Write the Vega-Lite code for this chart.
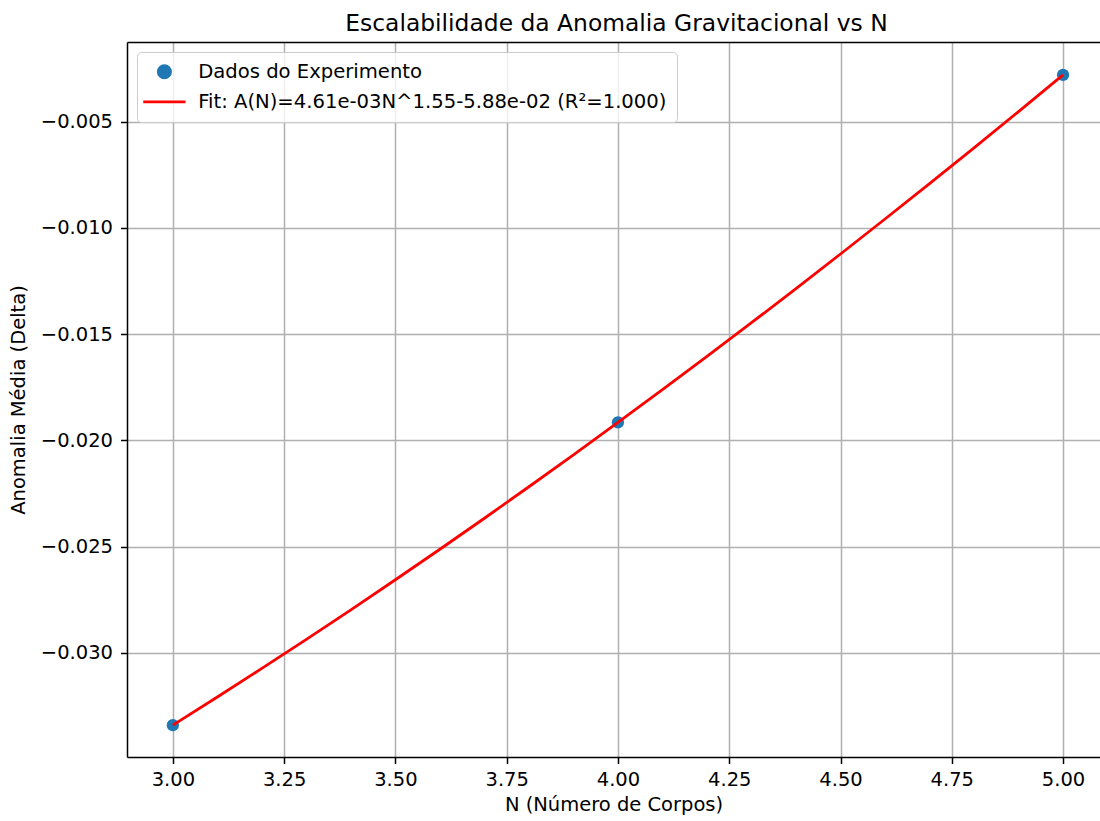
{
  "$schema": "https://vega.github.io/schema/vega-lite/v6.json",
  "autosize": {"type": "none"},
  "padding": {"left": 127, "top": 42, "right": 0, "bottom": 64},
  "width": 973,
  "height": 715,
  "background": "white",
  "title": {
    "text": "Escalabilidade da Anomalia Gravitacional vs N",
    "fontSize": 23.4,
    "fontWeight": "normal",
    "font": "DejaVu Sans",
    "color": "black",
    "anchor": "middle",
    "frame": "group",
    "baseline": "alphabetic",
    "offset": -12,
    "dx": 3
  },
  "config": {
    "view": {"stroke": null},
    "font": "DejaVu Sans"
  },
  "datasets": {
    "experimento": [
      {"N": 3, "A": -0.03340, "serie": "Dados do Experimento"},
      {"N": 4, "A": -0.01915, "serie": "Dados do Experimento"},
      {"N": 5, "A": -0.00280, "serie": "Dados do Experimento"}
    ],
    "fit": [
      {"N": 3.0, "A": -0.033399, "serie": "Fit: A(N)=4.61e-03N^1.55-5.88e-02 (R²=1.000)"},
      {"N": 3.1, "A": -0.032077, "serie": "Fit: A(N)=4.61e-03N^1.55-5.88e-02 (R²=1.000)"},
      {"N": 3.2, "A": -0.030732, "serie": "Fit: A(N)=4.61e-03N^1.55-5.88e-02 (R²=1.000)"},
      {"N": 3.3, "A": -0.029364, "serie": "Fit: A(N)=4.61e-03N^1.55-5.88e-02 (R²=1.000)"},
      {"N": 3.4, "A": -0.027972, "serie": "Fit: A(N)=4.61e-03N^1.55-5.88e-02 (R²=1.000)"},
      {"N": 3.5, "A": -0.026558, "serie": "Fit: A(N)=4.61e-03N^1.55-5.88e-02 (R²=1.000)"},
      {"N": 3.6, "A": -0.025122, "serie": "Fit: A(N)=4.61e-03N^1.55-5.88e-02 (R²=1.000)"},
      {"N": 3.7, "A": -0.023663, "serie": "Fit: A(N)=4.61e-03N^1.55-5.88e-02 (R²=1.000)"},
      {"N": 3.8, "A": -0.022182, "serie": "Fit: A(N)=4.61e-03N^1.55-5.88e-02 (R²=1.000)"},
      {"N": 3.9, "A": -0.020680, "serie": "Fit: A(N)=4.61e-03N^1.55-5.88e-02 (R²=1.000)"},
      {"N": 4.0, "A": -0.019157, "serie": "Fit: A(N)=4.61e-03N^1.55-5.88e-02 (R²=1.000)"},
      {"N": 4.1, "A": -0.017612, "serie": "Fit: A(N)=4.61e-03N^1.55-5.88e-02 (R²=1.000)"},
      {"N": 4.2, "A": -0.016047, "serie": "Fit: A(N)=4.61e-03N^1.55-5.88e-02 (R²=1.000)"},
      {"N": 4.3, "A": -0.014461, "serie": "Fit: A(N)=4.61e-03N^1.55-5.88e-02 (R²=1.000)"},
      {"N": 4.4, "A": -0.012855, "serie": "Fit: A(N)=4.61e-03N^1.55-5.88e-02 (R²=1.000)"},
      {"N": 4.5, "A": -0.011228, "serie": "Fit: A(N)=4.61e-03N^1.55-5.88e-02 (R²=1.000)"},
      {"N": 4.6, "A": -0.009581, "serie": "Fit: A(N)=4.61e-03N^1.55-5.88e-02 (R²=1.000)"},
      {"N": 4.7, "A": -0.007915, "serie": "Fit: A(N)=4.61e-03N^1.55-5.88e-02 (R²=1.000)"},
      {"N": 4.8, "A": -0.006229, "serie": "Fit: A(N)=4.61e-03N^1.55-5.88e-02 (R²=1.000)"},
      {"N": 4.9, "A": -0.004524, "serie": "Fit: A(N)=4.61e-03N^1.55-5.88e-02 (R²=1.000)"},
      {"N": 5.0, "A": -0.002799, "serie": "Fit: A(N)=4.61e-03N^1.55-5.88e-02 (R²=1.000)"}
    ]
  },
  "layer": [
    {
      "data": {"name": "experimento"},
      "mark": {"type": "point", "filled": true, "opacity": 1, "size": 150},
      "encoding": {
        "x": {
          "field": "N",
          "type": "quantitative",
          "scale": {"domain": [2.897, 5.083], "nice": false, "zero": false},
          "axis": {
            "orient": "bottom",
            "values": [3, 3.25, 3.5, 3.75, 4, 4.25, 4.5, 4.75, 5],
            "format": ".2f",
            "grid": true,
            "gridColor": "#b0b0b0",
            "gridWidth": 1.5,
            "domainColor": "black",
            "domainWidth": 1.5,
            "tickColor": "black",
            "tickWidth": 1.5,
            "tickSize": 6.5,
            "labelFont": "DejaVu Sans",
            "labelFontSize": 19.5,
            "labelColor": "black",
            "labelPadding": 7,
            "labelFlush": false,
            "labelOverlap": false,
            "title": "N (Número de Corpos)",
            "titleFont": "DejaVu Sans",
            "titleFontSize": 19.5,
            "titleFontWeight": "normal",
            "titleColor": "black",
            "titlePadding": 6
          }
        },
        "y": {
          "field": "A",
          "type": "quantitative",
          "scale": {"domain": [-0.0349, -0.00125], "nice": false, "zero": false},
          "axis": {
            "orient": "left",
            "values": [-0.03, -0.025, -0.02, -0.015, -0.01, -0.005],
            "format": ".3f",
            "grid": true,
            "gridColor": "#b0b0b0",
            "gridWidth": 1.5,
            "domainColor": "black",
            "domainWidth": 1.5,
            "tickColor": "black",
            "tickWidth": 1.5,
            "tickSize": 6.5,
            "labelFont": "DejaVu Sans",
            "labelFontSize": 19.5,
            "labelColor": "black",
            "labelPadding": 8,
            "labelOverlap": false,
            "title": "Anomalia Média (Delta)",
            "titleFont": "DejaVu Sans",
            "titleFontSize": 19.5,
            "titleFontWeight": "normal",
            "titleColor": "black",
            "titlePadding": 12
          }
        },
        "color": {
          "field": "serie",
          "type": "nominal",
          "scale": {
            "domain": ["Dados do Experimento", "Fit: A(N)=4.61e-03N^1.55-5.88e-02 (R²=1.000)"],
            "range": ["#1f77b4", "#ff0000"]
          },
          "legend": {
            "title": null,
            "orient": "top-left",
            "offset": 10,
            "padding": 10,
            "fillColor": "rgba(255,255,255,0.8)",
            "strokeColor": "#cccccc",
            "cornerRadius": 4,
            "labelFont": "DejaVu Sans",
            "labelFontSize": 19.6,
            "labelColor": "black",
            "labelLimit": 900,
            "symbolSize": 150,
            "symbolStrokeWidth": 2.8,
            "symbolOffset": 7.6,
            "labelOffset": 24,
            "rowPadding": 7,
            "encode": {
              "symbols": {
                "update": {
                  "fill": {"signal": "datum.value === 'Dados do Experimento' ? '#1f77b4' : 'transparent'"},
                  "stroke": {"signal": "datum.value === 'Dados do Experimento' ? 'transparent' : '#ff0000'"},
                  "strokeWidth": {"value": 2.8},
                  "opacity": {"value": 1}
                }
              }
            }
          }
        },
        "shape": {
          "field": "serie",
          "type": "nominal",
          "scale": {
            "domain": ["Dados do Experimento", "Fit: A(N)=4.61e-03N^1.55-5.88e-02 (R²=1.000)"],
            "range": ["circle", "M-3.45,0H3.45"]
          },
          "legend": {
            "title": null,
            "orient": "top-left",
            "offset": 10,
            "padding": 10,
            "fillColor": "rgba(255,255,255,0.8)",
            "strokeColor": "#cccccc",
            "cornerRadius": 4,
            "labelFont": "DejaVu Sans",
            "labelFontSize": 19.6,
            "labelColor": "black",
            "labelLimit": 900,
            "symbolSize": 150,
            "symbolStrokeWidth": 2.8,
            "symbolOffset": 7.6,
            "labelOffset": 24,
            "rowPadding": 7,
            "encode": {
              "symbols": {
                "update": {
                  "fill": {"signal": "datum.value === 'Dados do Experimento' ? '#1f77b4' : 'transparent'"},
                  "stroke": {"signal": "datum.value === 'Dados do Experimento' ? 'transparent' : '#ff0000'"},
                  "strokeWidth": {"value": 2.8},
                  "opacity": {"value": 1}
                }
              }
            }
          }
        }
      }
    },
    {
      "data": {"name": "fit"},
      "mark": {"type": "line", "strokeWidth": 2.8},
      "encoding": {
        "x": {
          "field": "N",
          "type": "quantitative",
          "axis": {
            "orient": "top",
            "labels": false,
            "ticks": false,
            "grid": false,
            "domain": true,
            "domainColor": "black",
            "domainWidth": 1.5,
            "title": null
          }
        },
        "y": {"field": "A", "type": "quantitative"},
        "color": {"field": "serie", "type": "nominal"}
      }
    }
  ],
  "resolve": {"axis": {"x": "independent"}}
}
